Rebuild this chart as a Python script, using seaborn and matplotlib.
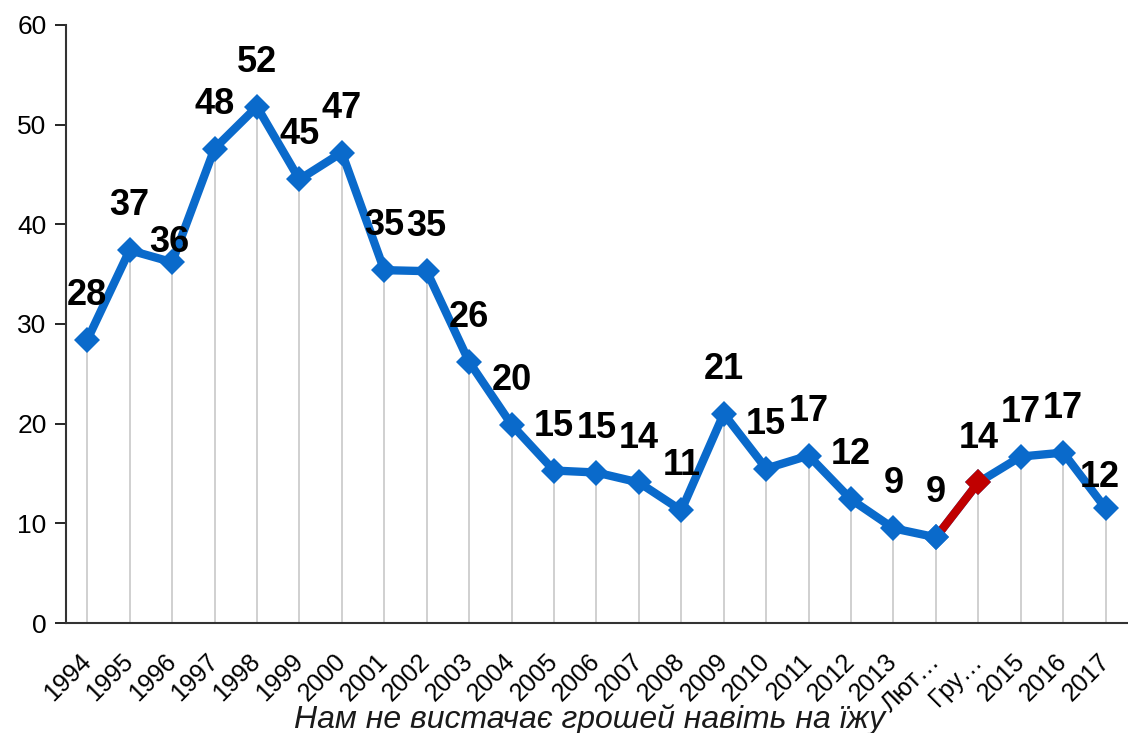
import matplotlib
matplotlib.use("Agg")
import matplotlib.pyplot as plt
import matplotlib.transforms as mtransforms
import seaborn as sns
import pandas as pd
import numpy as np

categories = ["1994", "1995", "1996", "1997", "1998", "1999", "2000", "2001", "2002",
              "2003", "2004", "2005", "2006", "2007", "2008", "2009", "2010", "2011",
              "2012", "2013", "Лют…", "Гру…", "2015", "2016", "2017"]
values = [28.4, 37.4, 36.2, 47.6, 51.8, 44.5, 47.2, 35.4, 35.3, 26.2, 19.9, 15.3, 15.1,
          14.1, 11.3, 21.0, 15.5, 16.8, 12.4, 9.5, 8.6, 14.1, 16.7, 17.1, 11.5]
labels = [28, 37, 36, 48, 52, 45, 47, 35, 35, 26, 20, 15, 15, 14, 11, 21, 15, 17, 12,
          9, 9, 14, 17, 17, 12]
title = "Нам не вистачає грошей навіть на їжу"
red_from = 20  # segment Лют… -> Гру… drawn in red

sns.set_theme(style="white")
plt.rcParams['font.family'] = ['Liberation Sans', 'DejaVu Sans']

BLUE = "#0A6ACB"
RED = "#C00000"

df = pd.DataFrame({"pos": np.arange(len(categories)), "value": values, "cat": categories})

fig = plt.figure(figsize=(11.28, 7.33), dpi=100)
ax = fig.add_axes([0.0585, 0.150, 0.9405, 0.816])

# drop lines
ax.vlines(df["pos"], 0, df["value"], color="#C8C8C8", lw=1.2, zorder=1)

sns.lineplot(data=df, x="pos", y="value", sort=False, color=BLUE, lw=6,
             marker="D", markersize=13, markeredgecolor=BLUE, markeredgewidth=0,
             ax=ax, zorder=3)
seg = df.iloc[red_from:red_from + 2]
sns.lineplot(data=seg, x="pos", y="value", sort=False, color=RED, lw=6, ax=ax, zorder=4)
ax.plot(seg["pos"].iloc[1], seg["value"].iloc[1], marker="D", ms=13, color=RED,
        mew=0, zorder=5)
ax.plot(seg["pos"].iloc[0], seg["value"].iloc[0], marker="D", ms=13, color=BLUE,
        mew=0, zorder=5)

# data labels
special = {2: (-2, 14), 24: (-4, 22)}
for i, (p, v, lab) in enumerate(zip(df["pos"], df["value"], labels)):
    dx, dy = special.get(i, (0, 32))
    ax.annotate(str(lab), (p, v), xytext=(dx, dy), textcoords="offset points",
                ha="center", va="center", fontsize=26, fontweight="bold", color="black",
                zorder=6)

ax.set_xlim(-0.5, len(categories) - 0.5)
ax.set_ylim(0, 60)
ax.set_yticks(range(0, 61, 10))
ax.set_xticks(df["pos"])
ax.set_xticklabels(categories, rotation=45, ha="right", va="center",
                   rotation_mode="anchor", fontsize=18)
shift = mtransforms.ScaledTranslation(-4 / 100, 0, fig.dpi_scale_trans)
for lbl in ax.get_xticklabels():
    lbl.set_transform(lbl.get_transform() + shift)
ax.tick_params(axis="y", labelsize=19, length=8, width=1.2, direction="out",
               left=True, pad=6, colors="black")
ax.tick_params(axis="x", length=0, pad=25, colors="black")
ax.set_xlabel("")
ax.set_ylabel("")
for s in ["top", "right"]:
    ax.spines[s].set_visible(False)
for s in ["left", "bottom"]:
    ax.spines[s].set_color("#333333")
    ax.spines[s].set_linewidth(1.5)

fig.text(0.523, 0.019, title, ha="center", va="center", fontsize=23, style="italic",
         color="#1a1a1a")

fig.savefig("out.png", dpi=100)
